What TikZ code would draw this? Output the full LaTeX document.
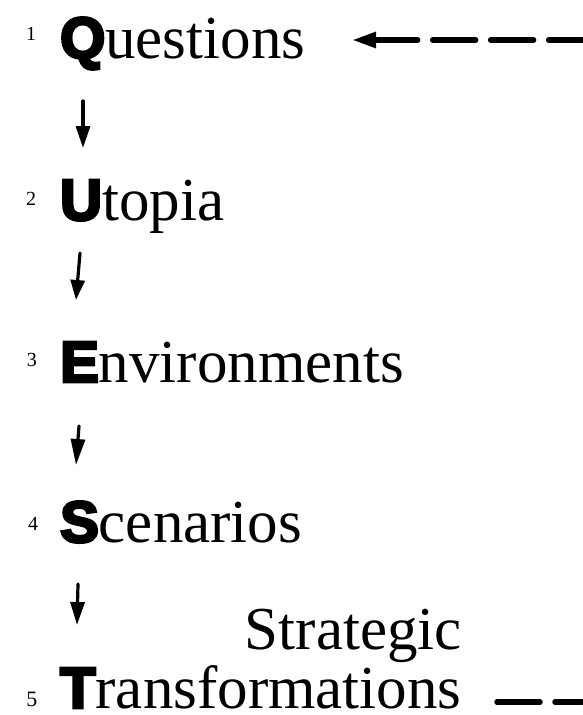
\documentclass[tikz,border=0pt]{standalone}
\usepackage{fontspec}
\setmainfont{Liberation Serif}
\newfontfamily\heavysans{Liberation Sans Bold}[FakeBold=5]
\usetikzlibrary{arrows.meta}
\tikzset{
  word/.style={anchor=base west, inner sep=0pt, text depth=0pt, font=\fontsize{61}{64}\selectfont},
  num/.style={anchor=center, inner sep=0pt, font=\fontsize{20}{21}\selectfont},
  downarrow/.style={line width=3.2pt, line cap=round, -{Triangle[length=#1,width=14pt]}},
  handdash/.style={line width=5.5pt, line cap=round, dash pattern=on 43pt off 15pt},
}
\newcommand{\initial}[1]{{\heavysans\fontsize{58}{60}\selectfont #1}}
\begin{document}
\begin{tikzpicture}[x=1pt,y=-1pt]
\useasboundingbox (0,0) rectangle (582,715);
% words
\node[word] (q) at (60,58) {\initial{Q}uestions};
\node[word] (u) at (60,220) {\initial{U}topia};
\node[word] (e) at (60,382) {\initial{E}nvironments};
\node[word] (s) at (60,542) {\initial{S}cenarios};
\node[word, anchor=base east] (st) at (462,649) {Strategic};
\node[word] (t) at (60,708) {\initial{T}ransformations};
% numbers
\node[num] (n1) at (31,33.5) {1};
\node[num] (n2) at (31,199) {2};
\node[num] (n3) at (32,360) {3};
\node[num] (n4) at (33,524) {4};
\node[num, font=\fontsize{22}{23}\selectfont] (n5) at (32,699) {5};
% arrow end points
\coordinate (a1s) at (83,101);  \coordinate (a1e) at (83,148);
\coordinate (a2s) at (80,253);  \coordinate (a2e) at (76,300);
\coordinate (a3s) at (79,426);  \coordinate (a3e) at (76,465);
\coordinate (a4s) at (78,584);  \coordinate (a4e) at (77,625);
\draw[downarrow=22pt] (a1s) -- (a1e);
\draw[downarrow=20pt] (a2s) -- (a2e);
\draw[downarrow=26pt] (a3s) -- (a3e);
\draw[downarrow=23pt] (a4s) -- (a4e);
% feedback dashed lines
\coordinate (qin) at (352,40);
\coordinate (qout) at (582,40);
\coordinate (tin) at (497,702);
\coordinate (tout) at (582,702);
\draw[handdash, {Triangle[length=24pt,width=15pt]}-] (qin) -- (qout);
\draw[handdash] (tin) -- (tout);
\end{tikzpicture}
\end{document}
